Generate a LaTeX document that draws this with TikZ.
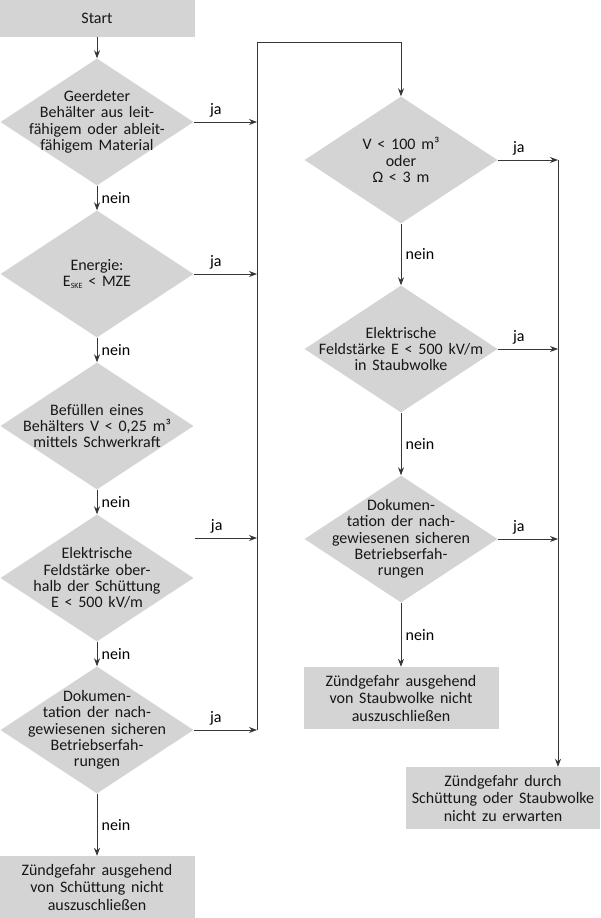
\documentclass[tikz,border=0pt]{standalone}
\usepackage{fontspec}
\setmainfont[WordSpace=1.6]{Carlito}
\usepackage{xcolor}
\usepackage{tikz}
\usetikzlibrary{shapes.geometric,arrows.meta,positioning}
\definecolor{grau}{RGB}{212,212,212}
\definecolor{linie}{RGB}{55,55,55}
\definecolor{schrift}{RGB}{25,22,22}
\tikzstyle{block} =	[rectangle, fill=grau,
	text=schrift,
	minimum width=195pt,
	minimum height=62pt,
	inner sep=0pt,
	align=center,
	font=\fontsize{16}{17.5}\selectfont
	]
\tikzstyle{frage} = [diamond, fill=grau,
	minimum width=193pt,
	minimum height=127pt,
	inner sep=0pt]
\tikzstyle{fragetext} = [align=center, text=schrift, inner sep=0pt]

\begin{document}
\begin{tikzpicture}[x=1pt, y=-1pt, node distance=152pt, on grid,
	font=\fontsize{16}{16.4}\selectfont,
	>={Stealth[length=8pt, width=6pt]}]
\tikzstyle{pfeil} = [draw=linie,
	->, line width=0.8pt
]
\useasboundingbox (0,0) rectangle (600,918);

    % linke Spalte: Schuettung
    \node [frage, label={[fragetext]center:{Geerdeter\\Behälter aus leit-\\fähigem oder ableit-\\fähigem Material}}] (geerdet) at (97,122) {};
    \node [block, minimum height=37pt, above=104pt of geerdet] (start) {Start};
    \node [frage, below=of geerdet, label={[fragetext]center:{Energie:\\E\raisebox{-1.5pt}{\fontsize{8}{9}\selectfont SKE} < MZE}}] (energie) {};
    \node [frage, below=of energie, label={[fragetext]center:{Befüllen eines\\Behälters V < 0,25 m³\\mittels Schwerkraft}}] (befuellen) {};
    \node [frage, below=of befuellen, label={[fragetext]center:{Elektrische\\Feldstärke ober-\\halb der Schüttung\\E < 500 kV/m}}] (feld) {};
    \node [frage, below=of feld, label={[fragetext]center:{Dokumen-\\tation der nach-\\gewiesenen sicheren\\Betriebserfah-\\rungen}}] (doku) {};
    \node [block, below=157pt of doku] (schuettung) {Zündgefahr ausgehend\\von Schüttung nicht\\auszuschließen};

    % rechte Spalte: Staubwolke
    \node [frage, label={[fragetext]center:{V < 100 m³\\oder\\Ω < 3 m}}] (volumen) at (401,160) {};
    \node [frage, below=189pt of volumen, label={[fragetext]center:{Elektrische\\Feldstärke E < 500 kV/m\\in Staubwolke}}] (feldwolke) {};
    \node [frage, below=190pt of feldwolke, label={[fragetext]center:{Dokumen-\\tation der nach-\\gewiesenen sicheren\\Betriebserfah-\\rungen}}] (dokuwolke) {};
    \node [block, below=159pt of dokuwolke] (staubwolke) {Zündgefahr ausgehend\\von Staubwolke nicht\\auszuschließen};
    \node [block, minimum width=194pt] (sicher) at (503,798) {Zündgefahr durch\\Schüttung oder Staubwolke\\nicht zu erwarten};

    \coordinate (sammel) at (257,42);
    \coordinate (ziel) at (558,160);
    \coordinate (ja4) at (195,538);

    % nein-Zweige
    \draw [pfeil] (start) -- (geerdet);
    \draw [pfeil] (geerdet) -- node[right=1pt] {nein} (energie);
    \draw [pfeil] (energie) -- node[right=1pt] {nein} (befuellen);
    \draw [pfeil] (befuellen) -- node[right=1pt] {nein} (feld);
    \draw [pfeil] (feld) -- node[right=1pt] {nein} (doku);
    \draw [pfeil] (doku) -- node[right=1pt] {nein} (schuettung);
    \draw [pfeil] (volumen) -- node[right=1pt] {nein} (feldwolke);
    \draw [pfeil] (feldwolke) -- node[right=1pt] {nein} (dokuwolke);
    \draw [pfeil] (dokuwolke) -- node[right=1pt] {nein} (staubwolke);

    % ja-Zweige
    \draw [pfeil] (geerdet) -- node[above=1pt, pos=0.35] {ja} (geerdet.east -| sammel);
    \draw [pfeil] (energie) -- node[above=1pt, pos=0.35] {ja} (energie.east -| sammel);
    \draw [pfeil] (ja4) -- node[above=1pt, pos=0.35] {ja} (ja4 -| sammel);
    \draw [pfeil] (doku) -- node[above=1pt, pos=0.35] {ja} (doku.east -| sammel);
    \draw [pfeil] (doku.east -| sammel) -- (sammel) -| (volumen.north);
    \draw [pfeil] (volumen) -- node[above=1pt, pos=0.35] {ja} (ziel);
    \draw [pfeil] (feldwolke) -- node[above=1pt, pos=0.35] {ja} (feldwolke.east -| ziel);
    \draw [pfeil] (dokuwolke) -- node[above=1pt, pos=0.35] {ja} (dokuwolke.east -| ziel);
    \draw [pfeil] (ziel) -- (ziel |- sicher.north);
\end{tikzpicture}
\end{document}
